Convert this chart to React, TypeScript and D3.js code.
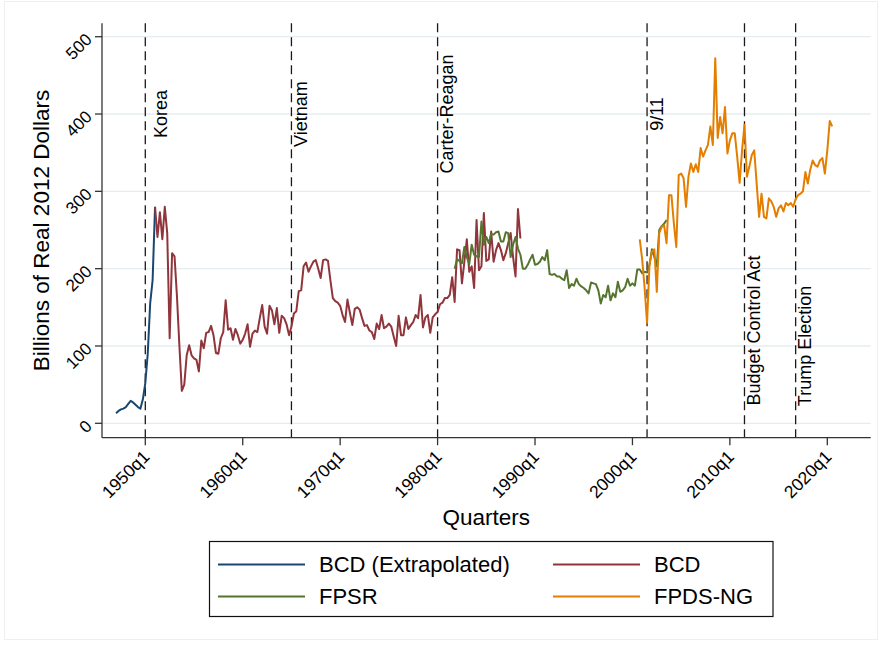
import React from "react";
import * as d3 from "d3";

const W = 882;
const H = 646;

// Quarterly real contract obligations, billions of 2012 dollars
const bcdExtrapolatedStart = 1947; // 1947q1
const bcdExtrapolated = [13, 16, 18, 19, 21, 25, 29, 27, 24, 21, 19, 31, 52, 90, 155, 185, 280];

const bcdStart = 1951; // 1951q1
const bcd = [
  280, 241, 273, 238, 280, 246, 110, 220, 216, 164,
  100,
  42, 50, 88, 101, 88, 84, 82, 67,
  107, 97, 117, 118, 126, 114, 91, 90, 110, 118,
  159, 121, 123, 108, 122, 114, 103, 108, 116, 128,
  99, 116, 120, 118, 136, 153, 125, 116, 152, 146,
  128, 149, 117, 139, 136, 128, 114, 125, 142, 145,
  171, 172, 203, 208, 196, 203, 209, 211, 200, 188,
  211, 212, 210, 185, 162,
  158,
  156, 152, 140, 131, 160, 143, 127, 148,
  150,
  147, 136, 126, 127, 120, 118, 109, 129, 122, 140,
  123, 125, 129, 125, 112, 100, 139, 114, 114, 137,
  122, 127, 131, 140, 136, 166, 124, 137, 140, 117, 137, 141, 144, 154,
  156, 162, 162, 166, 189, 157, 225, 224, 181, 209, 238, 196, 203, 175, 263, 198, 203,
  272, 210, 212, 248, 209, 224, 233, 224, 211, 220, 233, 246, 215, 190, 277, 239,
];

const fpsrStart = 1981.75; // 1981q4
const fpsr = [
  200, 212, 210, 207, 228, 215, 206, 231, 218, 216,
  215, 261, 231, 241, 233, 245, 244, 247, 248, 235,
  235, 247, 246, 215, 231, 241, 226, 218, 200, 200,
  205, 212, 218, 205, 206, 209, 215, 211, 224, 193,
  192, 193, 190, 190, 187, 185, 198, 175, 180, 178,
  187, 180, 177, 175, 172, 168, 182, 181, 180, 172,
  155, 166, 163, 178, 159, 168, 163, 183, 170, 172,
  176, 187, 178, 181, 178, 199, 199, 194, 196,
  195, 205, 225, 215, 203, 250, 255, 258, 263,
];

const fpdsStart = 2000.75; // 2000q4
const fpdsNg = [
  238, 212, 175, 130, 205, 222, 225, 170, 246, 254,
  256, 233, 295, 295, 259, 228, 321, 323, 317, 280,
  319, 336, 325, 335, 325, 356, 345, 353, 360, 384,
  360, 472, 369, 396, 375, 409, 349, 366, 375, 375,
  345, 311, 353, 386, 319, 332, 347, 353, 310, 267,
  297, 267, 265, 291, 287, 280, 267, 278, 282, 274,
  285, 282, 285, 280, 290, 295, 297, 300, 325, 310,
  328, 340, 334, 332, 340, 343, 323, 353, 391, 384,
];

const seriesNames = ["BCD (Extrapolated)", "BCD", "FPSR", "FPDS-NG"];
const seriesColors = ["#1a476f", "#90353b", "#55752f", "#e37e00"];

const xTickYears = [1950, 1960, 1970, 1980, 1990, 2000, 2010, 2020];
const yTicks = [0, 100, 200, 300, 400, 500];

const eventNames = ["Korea", "Vietnam", "Carter-Reagan", "9/11", "Budget Control Act", "Trump Election"];
const eventDates = [1950, 1965, 1980, 2001.5, 2011.5, 2016.75];
const eventLabelDates = [1950.6, 1965, 1980, 2001.5, 2011.5, 2016.75];
const eventLabelValues = [400, 400, 400, 400, 120, 100];

const FONT = "'Liberation Sans', Arial, Helvetica, sans-serif";

export default function App() {
  const plotLeft = 102;
  const plotRight = 870.7;
  const plotTop = 23.3;
  const axisY = 437.7;

  const x = d3.scaleLinear().domain([1950, 2020]).range([145.3, 827.3]);
  const y = d3.scaleLinear().domain([0, 500]).range([423.3, 36.7]);

  const series = [
    { start: bcdExtrapolatedStart, values: bcdExtrapolated },
    { start: bcdStart, values: bcd },
    { start: fpsrStart, values: fpsr },
    { start: fpdsStart, values: fpdsNg },
  ];

  const line = d3
    .line<[number, number]>()
    .x((d) => x(d[0]))
    .y((d) => y(d[1]));

  const paths = series.map((s) =>
    line(s.values.map((v, i) => [s.start + i / 4, v] as [number, number]))
  );

  const legendItems = seriesNames.map((name, i) => ({
    name,
    color: seriesColors[i],
    col: i % 2,
    row: Math.floor(i / 2),
  }));
  const legendCols = [218, 553];
  const legendRows = [564.5, 596.5];

  return (
    <svg
      width={W}
      height={H}
      style={{ position: "absolute", left: 0, top: 0, background: "#fff" }}
      fontFamily={FONT}
    >
      <rect x={0} y={0} width={W} height={H} fill="#fff" />
      <rect x={4.5} y={1.5} width={873} height={638} fill="none" stroke="#edf0f2" strokeWidth={1} />

      {/* gridlines */}
      {yTicks.map((t) => (
        <line key={`g${t}`} x1={plotLeft} x2={plotRight} y1={y(t)} y2={y(t)} stroke="#e6edf0" strokeWidth={1.3} />
      ))}

      {/* event markers */}
      {eventDates.map((d, i) => (
        <line
          key={`e${i}`}
          x1={x(d)}
          x2={x(d)}
          y1={plotTop}
          y2={axisY}
          stroke="#1a1a1a"
          strokeWidth={1.3}
          strokeDasharray="9,5"
        />
      ))}

      {/* series */}
      {paths.map((p, i) => (
        <path
          key={`s${i}`}
          d={p || ""}
          fill="none"
          stroke={seriesColors[i]}
          strokeWidth={2}
          strokeLinejoin="round"
        />
      ))}

      {/* event labels */}
      {eventNames.map((name, i) => (
        <text
          key={`t${i}`}
          transform={`translate(${x(eventLabelDates[i]) + 9.5},${y(eventLabelValues[i])}) rotate(-90)`}
          textAnchor="middle"
          dominantBaseline="central"
          fontSize={18}
          fill="#000"
        >
          {name}
        </text>
      ))}

      {/* axes */}
      <line x1={plotLeft} x2={plotLeft} y1={plotTop} y2={axisY} stroke="#333" strokeWidth={1.3} />
      <line x1={plotLeft} x2={plotRight} y1={axisY} y2={axisY} stroke="#333" strokeWidth={1.3} />

      {yTicks.map((t) => (
        <g key={`yt${t}`}>
          <line x1={plotLeft - 7} x2={plotLeft} y1={y(t)} y2={y(t)} stroke="#333" strokeWidth={1.3} />
          <text
            transform={`translate(${plotLeft - 13},${y(t)}) rotate(-45)`}
            textAnchor="end"
            dominantBaseline="central"
            fontSize={17}
            fill="#000"
          >
            {t}
          </text>
        </g>
      ))}

      {xTickYears.map((yr) => (
        <g key={`xt${yr}`}>
          <line x1={x(yr)} x2={x(yr)} y1={axisY} y2={axisY + 7.5} stroke="#333" strokeWidth={1.3} />
          <text
            transform={`translate(${x(yr) + 1},${axisY + 16}) rotate(-45)`}
            textAnchor="end"
            dominantBaseline="central"
            fontSize={17.5}
            fill="#000"
          >
            {`${yr}q1`}
          </text>
        </g>
      ))}

      {/* axis titles */}
      <text
        transform={`translate(49,${(plotTop + axisY) / 2}) rotate(-90)`}
        textAnchor="middle"
        fontSize={22.5}
        fill="#000"
      >
        Billions of Real 2012 Dollars
      </text>
      <text x={(plotLeft + plotRight) / 2} y={525} textAnchor="middle" fontSize={22.5} fill="#000">
        Quarters
      </text>

      {/* legend */}
      <rect x={209.5} y={541.5} width={563.5} height={75} fill="#fff" stroke="#111" strokeWidth={1.2} />
      {legendItems.map((it) => (
        <g key={it.name}>
          <line
            x1={legendCols[it.col]}
            x2={legendCols[it.col] + 87}
            y1={legendRows[it.row]}
            y2={legendRows[it.row]}
            stroke={it.color}
            strokeWidth={2}
          />
          <text
            x={legendCols[it.col] + 101}
            y={legendRows[it.row]}
            dominantBaseline="central"
            fontSize={22}
            fill="#000"
          >
            {it.name}
          </text>
        </g>
      ))}
    </svg>
  );
}
